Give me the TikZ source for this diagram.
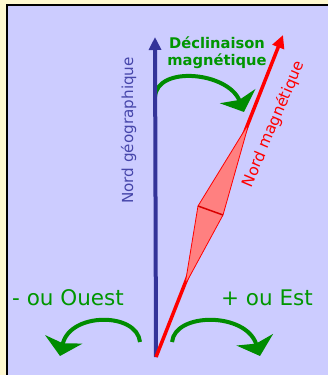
\documentclass[tikz,border=0pt]{standalone}
\usepackage{fontspec}
\setmainfont{DejaVu Sans}
\usepackage{xcolor}
\usetikzlibrary{arrows.meta}
\definecolor{paleyellow}{RGB}{255, 249, 208}
\definecolor{lavender}{RGB}{204, 204, 255}
\definecolor{navyblue}{RGB}{51, 51, 153}
\definecolor{geoblue}{RGB}{70, 70, 170}
\definecolor{arcgreen}{RGB}{0, 140, 0}
\definecolor{textgreen}{RGB}{0, 150, 0}
\definecolor{needlepink}{RGB}{255, 128, 128}

\begin{document}
\begin{tikzpicture}[
    x=1pt, y=-1pt,
    every node/.style={inner sep=0pt, align=center},
    northline/.style={line width=4pt, -{Triangle[length=13pt, width=12pt]}},
    turnarrow/.style={draw=arcgreen, line width=4pt, -{Stealth[length=17pt, width=38pt, inset=4pt]}, arcgreen},
    biglabel/.style={font=\fontsize{21.5}{25}\selectfont, color=textgreen, anchor=base}
]

\useasboundingbox (0,0) rectangle (328,375);
\clip (0,0) rectangle (328,375);

% Frame
\fill[paleyellow] (0,0) rectangle (328,375);
\draw[black, line width=2pt, fill=lavender] (7,5) rectangle (340,390);

% Key points
\coordinate (origin) at (156,357);
\coordinate (geoN) at (155,37);
\coordinate (magN) at (283,35);
\coordinate (declStart) at (155,97);
\coordinate (declEnd) at (244,112);
\coordinate (eastStart) at (172,342);
\coordinate (eastEnd) at (260,356);
\coordinate (westStart) at (140,342);
\coordinate (westEnd) at (60,356);

% Green turning arrows
\draw[turnarrow] (declStart) .. controls (157,65) and (228,72) .. (declEnd);
\draw[turnarrow] (eastStart) .. controls (175,312) and (246,312) .. (eastEnd);
\draw[turnarrow] (westStart) .. controls (137,312) and (70,312) .. (westEnd);

% Geographic and magnetic north
\draw[northline, navyblue] (origin) -- (geoN);
\draw[northline, red, line width=3.5pt] (origin) -- (magN);

% Compass needle
\coordinate (tail) at (185,285);
\coordinate (wideL) at (198,206);
\coordinate (wideR) at (223,215);
\coordinate (head) at (249,123);
\draw[red, line width=0.8pt, fill=needlepink, line join=round] (tail) -- (wideL) -- (head) -- (wideR) -- cycle;
\draw[red!85!black, line width=1.5pt] (wideL) -- (wideR);

% Labels
\node[font=\bfseries\fontsize{14.7}{17}\selectfont, textgreen] (decl) at (217,53) {Déclinaison\\magnétique};
\node[font=\fontsize{15.2}{18}\selectfont, geoblue, rotate=90, anchor=base] (geoLabel) at (133,130.5) {Nord géographique};
\node[font=\fontsize{15.5}{18}\selectfont, red, rotate=67, anchor=base] (magLabel) at (278,126) {Nord magnétique};
\node[biglabel] (west) at (68,305) {- ou Ouest};
\node[biglabel] (east) at (267,305) {+ ou Est};

\end{tikzpicture}
\end{document}
